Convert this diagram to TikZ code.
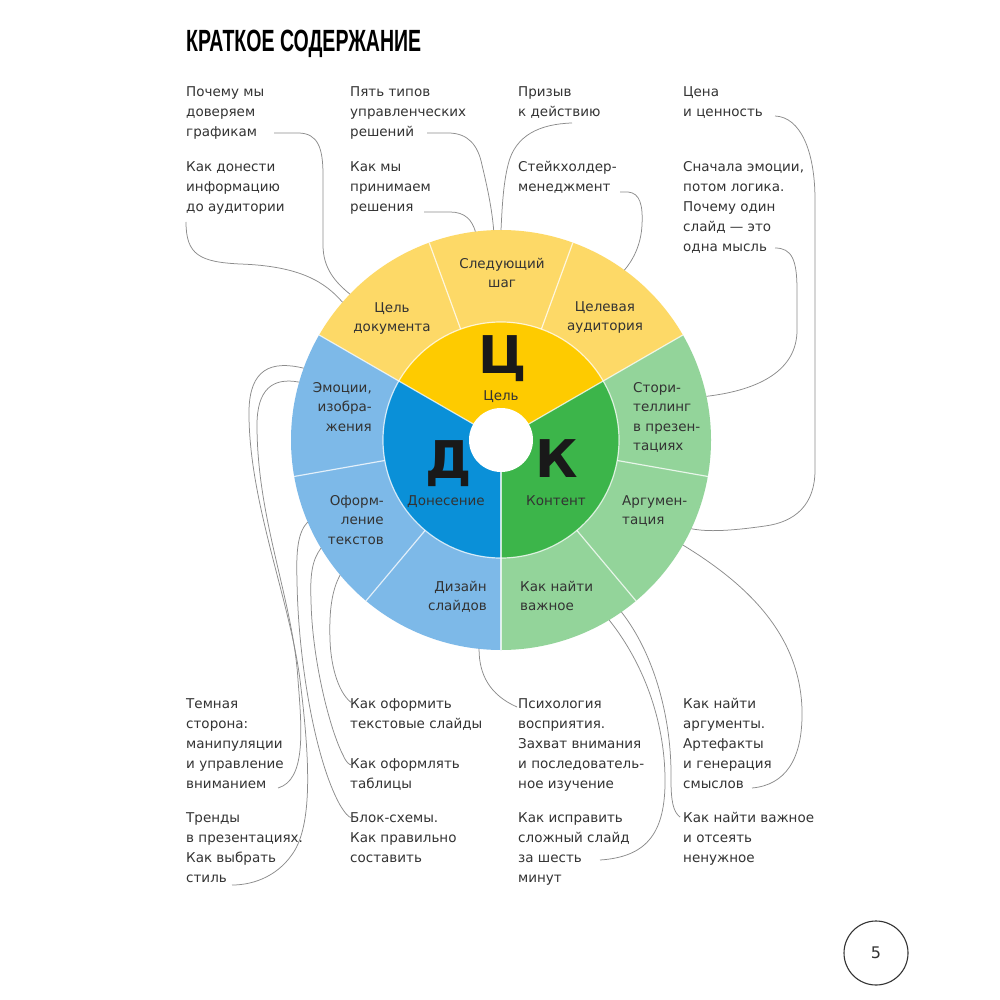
\documentclass[tikz,border=0pt]{standalone}
\usepackage{graphicx}
\usepackage{fontspec}
\setmainfont{DejaVu Sans}
\newfontfamily\titlefont{Liberation Sans}
\definecolor{yi}{HTML}{FECB00}
\definecolor{yo}{HTML}{FDD967}
\definecolor{bi}{HTML}{0A90D8}
\definecolor{bo}{HTML}{7DB9E8}
\definecolor{gi}{HTML}{3CB54A}
\definecolor{go}{HTML}{93D49A}
\definecolor{txtcol}{HTML}{333333}
\definecolor{conncol}{HTML}{8C8C8C}
\newcommand{\lblL}[1]{\begin{tabular}[t]{@{}l@{}}#1\end{tabular}}
\newcommand{\lblC}[1]{\begin{tabular}[t]{@{}c@{}}#1\end{tabular}}
\newcommand{\lblR}[1]{\begin{tabular}[t]{@{}r@{}}#1\end{tabular}}
\tikzset{
  txt/.style={anchor=base west, inner sep=0pt, text=txtcol, font=\fontsize{13.5}{20}\selectfont},
  wl/.style={inner sep=0pt, text=txtcol, font=\fontsize{13.5}{19.5}\selectfont},
  big/.style={anchor=base, inner sep=0pt, text=black!90, font=\fontsize{52}{52}\selectfont\bfseries},
  conn/.style={draw=conncol, line width=0.75pt},
  sepline/.style={draw=white, opacity=0.75, line width=1.2pt}
}
\begin{document}
\begin{tikzpicture}[x=1pt,y=-1pt]
\useasboundingbox (0,0) rectangle (1000,1000);
\fill[white] (0,0) rectangle (1000,1000);

% title
\node[anchor=base west, inner sep=0pt] (title) at (186,52)
  {\scalebox{0.636}[1]{\titlefont\bfseries\fontsize{30.7}{31}\selectfont КРАТКОЕ СОДЕРЖАНИЕ}};

% wheel
\begin{scope}[shift={(501,440)}]
  \foreach \a/\c in {30/yo,70/yo,110/yo,150/bo,190/bo,230/bo,270/go,310/go,350/go} {
    \fill[\c] (\a:118pt) -- (\a:210pt) arc[start angle=\a, end angle=\a+40, radius=210pt]
      -- ({\a+40}:118pt) arc[start angle=\a+40, end angle=\a, radius=118pt] -- cycle;
  }
  \fill[yi] (0,0) -- (30:118pt) arc[start angle=30, end angle=150, radius=118pt] -- cycle;
  \fill[bi] (0,0) -- (150:118pt) arc[start angle=150, end angle=270, radius=118pt] -- cycle;
  \fill[gi] (0,0) -- (270:118pt) arc[start angle=270, end angle=390, radius=118pt] -- cycle;
  \foreach \a in {30,70,110,150,190,230,270,310,350}
    \draw[sepline] (\a:118pt) -- (\a:210pt);
  \foreach \a in {30,150,270}
    \draw[sepline] (\a:30pt) -- (\a:118pt);
  \draw[sepline] (0,0) circle (118pt);
  \fill[white] (0,0) circle (32pt);
  % ring anchor points
  \coordinate (rA) at (136:210pt);
  \coordinate (rB) at (139:210pt);
  \coordinate (rC) at (92:210pt);
  \coordinate (rD) at (97:210pt);
  \coordinate (rE) at (90:210pt);
  \coordinate (rF) at (54:210pt);
  \coordinate (rG) at (-25:210pt);
  \coordinate (rH) at (12:210pt);
  \coordinate (rI) at (160:210pt);
  \coordinate (rJ) at (164:210pt);
  \coordinate (rK) at (203:210pt);
  \coordinate (rL) at (211:210pt);
  \coordinate (rM) at (220:210pt);
  \coordinate (rN) at (264:210pt);
  \coordinate (rO) at (301:210pt);
  \coordinate (rP) at (305:210pt);
  \coordinate (rQ) at (330:210pt);
\end{scope}

% big letters
\node[big] (Lc) at (503,373) {Ц};
\node[big] (Ld) at (449,478) {Д};
\node[big] (Lk) at (557,477) {К};
\node[wl, anchor=base] (ic) at (501,400) {Цель};
\node[wl, anchor=base] (id) at (446,505) {Донесение};
\node[wl, anchor=base] (ik) at (556,505) {Контент};

% outer ring labels
\node[wl, anchor=base] (o1) at (392,312) {\lblC{Цель\\документа}};
\node[wl, anchor=base] (o2) at (502,268) {\lblC{Следующий\\шаг}};
\node[wl, anchor=base] (o3) at (605,311) {\lblC{Целевая\\аудитория}};
\node[wl, anchor=base east] (o4) at (372,392) {\lblR{Эмоции,\\изобра-\\жения}};
\node[wl, anchor=base east] (o5) at (384,505) {\lblR{Оформ-\\ление\\текстов}};
\node[wl, anchor=base east] (o6) at (487,591) {\lblR{Дизайн\\слайдов}};
\node[wl, anchor=base west] (o7) at (633,392) {\lblL{Стори-\\теллинг\\в презен-\\тациях}};
\node[wl, anchor=base west] (o8) at (622,505) {\lblL{Аргумен-\\тация}};
\node[wl, anchor=base west] (o9) at (520,591) {\lblL{Как найти\\важное}};

% top texts
\node[txt] (t1) at (186,97) {\lblL{Почему мы\\доверяем\\графикам}};
\node[txt] (t2) at (186,172) {\lblL{Как донести\\информацию\\до аудитории}};
\node[txt] (t3) at (350,97) {\lblL{Пять типов\\управленческих\\решений}};
\node[txt] (t4) at (350,172) {\lblL{Как мы\\принимаем\\решения}};
\node[txt] (t5) at (518,97) {\lblL{Призыв\\к действию}};
\node[txt] (t6) at (518,172) {\lblL{Стейкхолдер-\\менеджмент}};
\node[txt] (t7) at (683,97) {\lblL{Цена\\и ценность}};
\node[txt] (t8) at (683,172) {\lblL{Сначала эмоции,\\потом логика.\\Почему один\\слайд — это\\одна мысль}};

% bottom texts
\node[txt] (b1) at (186,708) {\lblL{Темная\\сторона:\\манипуляции\\и управление\\вниманием}};
\node[txt] (b2) at (186,822) {\lblL{Тренды\\в презентациях.\\Как выбрать\\стиль}};
\node[txt] (b3) at (350,708) {\lblL{Как оформить\\текстовые слайды}};
\node[txt] (b4) at (350,768) {\lblL{Как оформлять\\таблицы}};
\node[txt] (b5) at (350,822) {\lblL{Блок-схемы.\\Как правильно\\составить}};
\node[txt] (b6) at (518,708) {\lblL{Психология\\восприятия.\\Захват внимания\\и последователь-\\ное изучение}};
\node[txt] (b7) at (518,822) {\lblL{Как исправить\\сложный слайд\\за шесть\\минут}};
\node[txt] (b8) at (683,708) {\lblL{Как найти\\аргументы.\\Артефакты\\и генерация\\смыслов}};
\node[txt] (b9) at (683,822) {\lblL{Как найти важное\\и отсеять\\ненужное}};

% connector start points
\coordinate (sA) at (274,133);
\coordinate (sB) at (186,222);
\coordinate (sC) at (427,133);
\coordinate (sD) at (424,212);
\coordinate (sE) at (572,123);
\coordinate (sF) at (620,192);
\coordinate (sG) at (775,116);
\coordinate (sH) at (775,248);
\coordinate (sI) at (232,885);
\coordinate (sJ) at (278,788);
\coordinate (sK) at (352,818);
\coordinate (sL) at (352,765);
\coordinate (sM) at (352,703);
\coordinate (sN) at (517,707);
\coordinate (sO) at (600,860);
\coordinate (sP) at (680,817);
\coordinate (sQ) at (752,788);

% connectors
\draw[conn] (sA) -- (298,133) .. controls (318,133) and (323,148) .. (323,175) -- (323,245) .. controls (323,268) and (335,282) .. (rA);
\draw[conn] (sB) .. controls (186,255) and (200,262) .. (240,264) .. controls (300,266) and (325,282) .. (rB);
\draw[conn] (sC) -- (448,133) .. controls (468,133) and (478,145) .. (482,165) .. controls (488,190) and (492,210) .. (rC);
\draw[conn] (sD) -- (450,212) .. controls (465,212) and (472,220) .. (rD);
\draw[conn] (sE) .. controls (540,124) and (515,135) .. (508,165) .. controls (503,185) and (502,210) .. (rE);
\draw[conn] (sF) -- (628,192) .. controls (640,193) and (643,205) .. (642,225) .. controls (641,245) and (633,260) .. (rF);
\draw[conn] (sG) .. controls (800,117) and (815,150) .. (815,200) -- (815,470) .. controls (815,505) and (795,522) .. (765,526) .. controls (730,531) and (708,532) .. (rG);
\draw[conn] (sH) .. controls (792,248) and (797,260) .. (797,290) -- (797,330) .. controls (797,370) and (760,390) .. (rH);
\draw[conn] (rI) .. controls (270,360) and (250,370) .. (249,410) .. controls (248,500) and (290,600) .. (300,680) .. controls (310,760) and (312,820) .. (295,850) .. controls (280,875) and (255,885) .. (sI);
\draw[conn] (rJ) .. controls (272,377) and (257,390) .. (257,425) .. controls (257,520) and (293,600) .. (298,680) .. controls (302,730) and (306,780) .. (sJ);
\draw[conn] (rK) .. controls (298,532) and (296,550) .. (297,580) .. controls (298,660) and (315,760) .. (340,805) .. controls (345,813) and (348,817) .. (sK);
\draw[conn] (rL) .. controls (312,560) and (310,575) .. (311,600) .. controls (312,660) and (330,730) .. (343,755) .. controls (346,762) and (349,765) .. (sL);
\draw[conn] (rM) .. controls (332,590) and (329,610) .. (330,640) .. controls (331,670) and (340,695) .. (sM);
\draw[conn] (rN) .. controls (479,675) and (490,695) .. (sN);
\draw[conn] (rO) .. controls (645,665) and (666,725) .. (665,785) .. controls (664,835) and (645,857) .. (sO);
\draw[conn] (rP) .. controls (655,655) and (672,720) .. (671,780) .. controls (671,800) and (673,812) .. (sP);
\draw[conn] (rQ) .. controls (740,580) and (800,630) .. (802,710) .. controls (803,760) and (785,785) .. (sQ);

% page number
\draw[draw=txtcol, line width=1.1pt] (876,953) circle (32pt);
\node[inner sep=0pt, text=txtcol, font=\fontsize{16}{16}\selectfont] (pg) at (876,953) {5};
\end{tikzpicture}
\end{document}
